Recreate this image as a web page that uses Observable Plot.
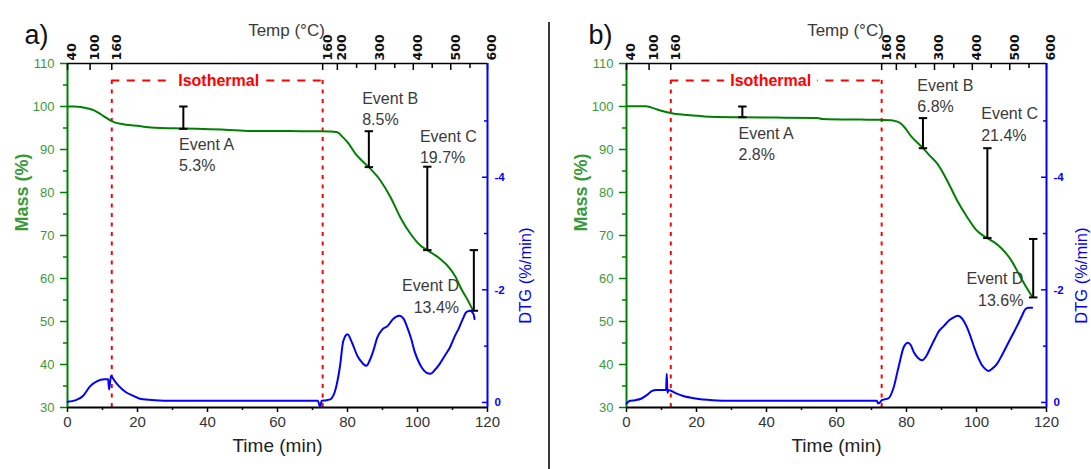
<!DOCTYPE html>
<html><head><meta charset="utf-8">
<script src="https://cdn.jsdelivr.net/npm/d3@7"></script>
<script src="https://cdn.jsdelivr.net/npm/@observablehq/plot@0.6"></script>
<style>
html,body{margin:0;padding:0;background:#fff;}
#fig{position:relative;width:1091px;height:469px;overflow:hidden;background:#fff;}
.panel{position:absolute;top:0;height:469px;}
.panel svg{position:absolute;left:0;top:0;overflow:visible;}
#divider{position:absolute;left:548px;top:22px;width:2px;height:447px;background:#3a3a3a;}
</style></head><body>
<div id="fig"><div id="divider"></div></div>
<script>
// ---------- data ----------
const timeDomain = [0, 120];
const massDomain = [30, 110];
const dtgDomain = [0.09, -6.02];
const timeTicks = [0, 20, 40, 60, 80, 100, 120];
const timeMinor = [10, 30, 50, 70, 90, 110];
const massTicks = [30, 40, 50, 60, 70, 80, 90, 100, 110];
const massMinor = [35, 45, 55, 65, 75, 85, 95, 105];
const dtgTicks = [0, -2, -4];
const dtgMinor = [-1, -3, -5];
const tempLabels = ["40", "100", "160", "160", "200", "300", "400", "500", "600"];
const tempLabelTimes = [0, 6.45, 12.65, 72.9, 77.1, 88.0, 98.8, 109.5, 120];
const tempMinorTimes = [82.6, 93.5, 104.2, 115.0];
const isoTimes = [12.65, 72.9];
const isoLevel = 106.05;

const massA = [[0,100],[2,100],[3.8,99.9],[5.5,99.6],[7.6,99.1],[9.5,98.2],[11,97.4],[12.4,96.7],[13.8,96.2],[15.2,96.0],[17.5,95.7],[20,95.5],[23,95.2],[26.6,95.0],[30,94.95],[37,94.8],[45,94.6],[52.3,94.3],[60,94.3],[66.6,94.25],[72.3,94.25],[75,94.2],[77.1,94.0],[78.5,93.0],[80,91.7],[82.3,89.0],[84,87.5],[86.1,85.9],[89.4,82.8],[92.3,78.9],[95.1,74.2],[98,70.4],[100.9,67.6],[102.8,66.6],[104.5,65.7],[106.6,64.5],[109.4,62.2],[111,60.2],[112.3,57.9],[114.2,55.2],[115.9,52.5]];
const dtgA = [[0,-0.01],[2.4,-0.04],[4.5,-0.12],[6.5,-0.29],[8.5,-0.38],[10.5,-0.41],[11.6,-0.41],[11.9,-0.23],[12.4,-0.47],[13.5,-0.38],[14.7,-0.29],[16.5,-0.19],[18.7,-0.12],[21,-0.06],[25,-0.04],[30,-0.03],[40,-0.03],[50,-0.03],[60,-0.03],[71.5,-0.03],[72.2,0.08],[72.6,-0.03],[74,-0.04],[75.2,-0.06],[76.7,-0.26],[77.8,-0.62],[78.8,-1.09],[80,-1.21],[81.3,-1.06],[82.8,-0.83],[84,-0.72],[85.4,-0.65],[86.3,-0.74],[87.4,-0.92],[88.5,-1.15],[90,-1.30],[91.5,-1.36],[93,-1.48],[94.8,-1.54],[96,-1.49],[97.1,-1.33],[98.2,-1.13],[99.1,-0.92],[100.2,-0.74],[101.2,-0.62],[102.5,-0.53],[103.7,-0.51],[105,-0.58],[106.3,-0.68],[107.8,-0.83],[109.3,-0.98],[110.6,-1.17],[111.9,-1.33],[113,-1.49],[113.9,-1.60],[115,-1.63],[116,-1.57],[116.3,-1.48]];
const massB = [[0,100.05],[5.5,100.05],[7,99.8],[8.8,99.3],[10.5,98.9],[12.6,98.5],[15,98.2],[17.4,98.0],[22.2,97.7],[33,97.5],[45,97.4],[54.5,97.35],[56,97.1],[66.9,96.95],[72,96.9],[76.4,96.7],[78.3,96.1],[79.8,94.8],[81.2,93.2],[84.5,90.5],[86.5,88.7],[88.8,86.7],[91.6,82.8],[94.5,78.1],[97.4,74.2],[99.7,71.5],[101.5,70.2],[103.1,69.4],[106.9,67.2],[109.7,64.5],[112.6,60.3],[114.5,57.6],[115.9,55.8]];
const dtgB = [[0,0.02],[1,-0.03],[2.5,-0.04],[4.3,-0.07],[5.8,-0.13],[7.2,-0.20],[8.5,-0.22],[10,-0.22],[11.3,-0.22],[11.5,-0.51],[11.7,-0.17],[12,-0.22],[13.9,-0.17],[16,-0.12],[19.7,-0.07],[24.6,-0.04],[30,-0.03],[40,-0.03],[50,-0.03],[60,-0.03],[71.5,-0.03],[71.9,0.02],[73,-0.04],[74.8,-0.07],[76.3,-0.26],[77.7,-0.62],[79.2,-0.98],[80.4,-1.06],[81.2,-1.02],[82.1,-0.89],[83.3,-0.79],[84.5,-0.75],[85.7,-0.83],[86.9,-0.98],[88.1,-1.13],[89.3,-1.27],[90.7,-1.36],[92.2,-1.46],[93.5,-1.51],[94.7,-1.54],[96,-1.48],[97.1,-1.36],[98.3,-1.17],[99.5,-0.95],[100.5,-0.79],[101.4,-0.68],[102.4,-0.60],[103.4,-0.56],[104.5,-0.60],[105.8,-0.68],[107.2,-0.83],[108.7,-1.01],[110.1,-1.18],[111.6,-1.36],[113,-1.54],[114,-1.66],[115,-1.68],[115.9,-1.68]];

const eventNames = ["Event A", "Event B", "Event C", "Event D"];
const eventPctA = ["5.3%", "8.5%", "19.7%", "13.4%"];
const eventTimeA = [33.1, 86.1, 102.8, 116.1];
const eventTopA = [100, 94.25, 86.0, 66.6];
const eventBottomA = [94.8, 85.9, 66.6, 52.5];
const eventPctB = ["2.8%", "6.8%", "21.4%", "13.6%"];
const eventTimeB = [33.1, 84.7, 103.1, 116.2];
const eventTopB = [100, 97.3, 90.3, 69.2];
const eventBottomB = [97.5, 90.3, 69.4, 55.6];

// annotation placement (time, mass, anchor)
const labelPosA = [[31.86, 88.94, "start"], [84.2, 99.67, "start"], [100.7, 90.86, "start"], [111.86, 56.1, "end"]];
const labelPosB = [[32.0, 91.5, "start"], [83.1, 102.66, "start"], [101.35, 96.1, "start"], [113.4, 57.77, "end"]];

// ---------- drawing ----------
const GREEN = "#008000", GREEN_TXT = "#3a9a3a", BLUE = "#0000ff", RED = "#ff0000", TXT = "#3a3a3a";
const FONT = "'Liberation Sans', Arial, sans-serif";
const capSymbol = {draw(ctx, size) { const w = Math.sqrt(size / Math.PI); ctx.moveTo(-w, 0); ctx.lineTo(w, 0); }};

function panel({left, width, ml, mr, tag, tagDx, mass, dtg, pct, times, tops, bottoms, labelPos, isoTextT, dtgLabelDx}) {
  const mt = 63, mb = 62, H = 469;
  const fw = width - ml - mr, fh = H - mt - mb;
  const div = document.createElement("div");
  div.className = "panel";
  div.style.left = left + "px";
  div.style.width = width + "px";
  document.getElementById("fig").appendChild(div);
  const base = {width, height: H, marginLeft: ml, marginRight: mr, marginTop: mt, marginBottom: mb,
    style: {background: "transparent", fontFamily: FONT, overflow: "visible"}};

  const events = eventNames.map((n, i) => ({t: times[i], top: tops[i], bottom: bottoms[i]}));
  const caps = events.flatMap(e => [{t: e.t, m: e.top}, {t: e.t, m: e.bottom}]);
  const labels = eventNames.map((n, i) => ({t: labelPos[i][0], m: labelPos[i][1], anchor: labelPos[i][2], text: n + "\n" + pct[i]}));
  const temps = tempLabelTimes.map((t, i) => ({t, s: tempLabels[i]}));
  const labelOpts = {x: "t", y: "m", text: "text", fill: TXT, fontSize: 16, lineHeight: 1.33};

  const massPlot = Plot.plot({
    ...base,
    x: {domain: timeDomain},
    y: {domain: massDomain},
    marks: [
      Plot.ruleX(isoTimes, {y1: isoLevel, y2: massDomain[0], stroke: RED, strokeWidth: 2, strokeDasharray: "4,5.5"}),
      Plot.ruleY([{y: isoLevel, x1: isoTimes[0], x2: isoTimes[1]}], {y: "y", x1: "x1", x2: "x2", stroke: RED, strokeWidth: 2, strokeDasharray: "8,7.5"}),
      Plot.text([{t: isoTextT, m: isoLevel}], {x: "t", y: "m", text: () => "Isothermal", fill: RED, stroke: "white", strokeWidth: 14, fontWeight: "bold", fontSize: 16}),
      Plot.line(mass, {x: d => d[0], y: d => d[1], stroke: GREEN, strokeWidth: 2, curve: "monotone-x"}),
      Plot.ruleX(events, {x: "t", y1: "top", y2: "bottom", stroke: "black", strokeWidth: 2}),
      Plot.dot(caps, {x: "t", y: "m", r: 4.2, symbol: capSymbol, stroke: "black", strokeWidth: 2, fill: "none"}),
      Plot.text(labels.filter(d => d.anchor === "start"), {...labelOpts, textAnchor: "start"}),
      Plot.text(labels.filter(d => d.anchor === "end"), {...labelOpts, textAnchor: "end"}),
      // spines
      Plot.ruleY([massDomain[1]], {stroke: "black", strokeWidth: 1.5}),
      Plot.ruleY([massDomain[0]], {stroke: "black", strokeWidth: 2}),
      Plot.ruleX([timeDomain[0]], {stroke: GREEN, strokeWidth: 2}),
      // left axis
      Plot.axisY(massTicks, {tickSize: 7, tickPadding: 6, stroke: GREEN, strokeWidth: 1.5, fill: GREEN_TXT, fontSize: 13, label: null, tickFormat: d => String(d)}),
      Plot.axisY(massMinor, {tickSize: 4, stroke: GREEN, strokeWidth: 1.5, label: null, tickFormat: () => ""}),
      // bottom axis
      Plot.axisX(timeTicks, {anchor: "bottom", tickSize: 5, tickPadding: 4, stroke: "black", strokeWidth: 1.5, fill: "#333", fontSize: 15, label: null, tickFormat: d => String(d)}),
      Plot.axisX(timeMinor, {anchor: "bottom", tickSize: 3, stroke: "black", strokeWidth: 1.5, label: null, tickFormat: () => ""}),
      // top (temperature) axis
      Plot.ruleX(tempLabelTimes, {insetBottom: fh - 7, stroke: "black", strokeWidth: 1.5}),
      Plot.ruleX(tempMinorTimes, {insetBottom: fh - 5, stroke: "black", strokeWidth: 1.5}),
      Plot.text(temps, {x: "t", text: "s", frameAnchor: "top", rotate: -90, textAnchor: "start", dy: -3, fontWeight: "bold", fontSize: 12.5, fontFamily: "'DejaVu Sans', sans-serif", fill: "#111"}),
      // titles
      Plot.text(["Temp (°C)"], {frameAnchor: "top", dx: 9, dy: -40, fontSize: 17, fill: TXT}),
      Plot.text(["Time (min)"], {frameAnchor: "bottom", dy: 44, fontSize: 19, fill: "#222"}),
      Plot.text(["Mass (%)"], {frameAnchor: "left", dx: -45, dy: -4, rotate: -90, fontSize: 18, fontWeight: "bold", fill: GREEN_TXT}),
      Plot.text([tag], {frameAnchor: "top-left", dx: tagDx, dy: -39, textAnchor: "start", fontSize: 27, fill: "#111"})
    ]
  });
  div.appendChild(massPlot);

  const dtgPlot = Plot.plot({
    ...base,
    x: {domain: timeDomain, axis: null},
    y: {domain: dtgDomain, axis: null},
    marks: [
      Plot.line(dtg, {x: d => d[0], y: d => d[1], stroke: BLUE, strokeWidth: 2, curve: "monotone-x"}),
      Plot.ruleX([timeDomain[1]], {stroke: BLUE, strokeWidth: 2}),
      Plot.ruleY(dtgTicks, {insetLeft: fw - 5, stroke: BLUE, strokeWidth: 1.5}),
      Plot.ruleY(dtgMinor, {insetLeft: fw - 3, stroke: BLUE, strokeWidth: 1.5}),
      Plot.text(dtgTicks, {y: d => d, text: d => String(d), frameAnchor: "right", dx: 7, textAnchor: "start", fill: BLUE, fontWeight: "bold", fontSize: 11.5}),
      Plot.text(["DTG (%/min)"], {frameAnchor: "right", dx: dtgLabelDx, dy: -8, rotate: -90, fontSize: 16.5, fill: BLUE})
    ]
  });
  div.appendChild(dtgPlot);
}

panel({left: 0, width: 549, ml: 67, mr: 62, tag: "a)", tagDx: -43, mass: massA, dtg: dtgA,
  pct: eventPctA, times: eventTimeA, tops: eventTopA, bottoms: eventBottomA, labelPos: labelPosA, isoTextT: 43.2, dtgLabelDx: 38});
panel({left: 549, width: 542, ml: 77, mr: 45, tag: "b)", tagDx: -38, mass: massB, dtg: dtgB,
  pct: eventPctB, times: eventTimeB, tops: eventTopB, bottoms: eventBottomB, labelPos: labelPosB, isoTextT: 41.2, dtgLabelDx: 35});
</script>
</body></html>
